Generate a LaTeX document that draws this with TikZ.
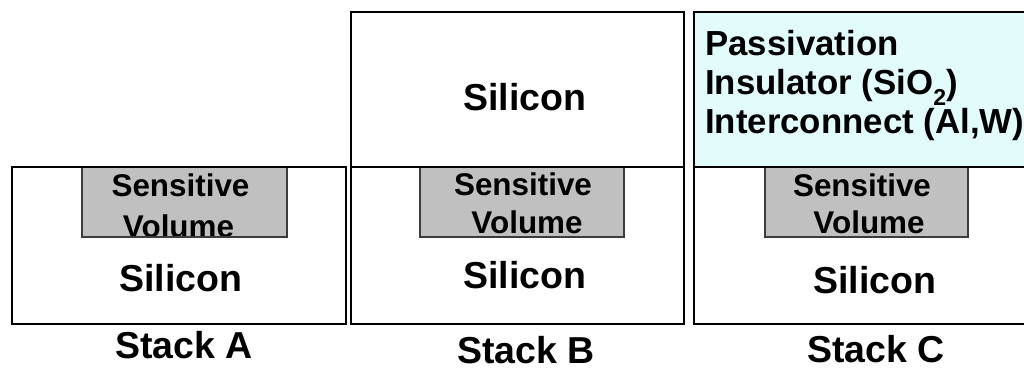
\documentclass[tikz,border=0pt]{standalone}
\usepackage{fontspec}
\setmainfont{Liberation Sans}
\begin{document}
\begin{tikzpicture}[x=1pt,y=-1pt,
  layer/.style={draw=black,line width=1.4pt},
  sensfill/.style={fill={rgb,255:red,192;green,192;blue,192}},
  sensedge/.style={draw={rgb,255:red,60;green,60;blue,60},line width=1.2pt},
  big/.style={inner sep=0pt,anchor=base,font=\fontsize{37.5}{42}\selectfont\bfseries},
  small/.style={inner sep=0pt,anchor=base,font=\fontsize{31.4}{35}\selectfont\bfseries},
  layertext/.style={inner sep=0pt,anchor=base west,font=\fontsize{34.8}{40}\selectfont\bfseries}]
\definecolor{oxide}{RGB}{226,252,252}
\useasboundingbox (0,0) rectangle (1024,368);
\clip (0,0) rectangle (1024,368);

% Stack A: silicon substrate with its sensitive volume
\fill[sensfill] (82,167) rectangle (287,237);
\node[small] (sensA) at (180.5,196) {Sensitive};
\node[small] (volA) at (178.5,237) {Volume};
\draw[sensedge] (82,167) rectangle (287,237);
\draw[layer] (12,167) rectangle (346,324);
\node[big] (siA) at (181,291) {Silicon};
\node[big] (stackA) at (184,358) {Stack A};

% Stack B: substrate covered by a second silicon layer
\draw[layer] (351,12) rectangle (684,167);
\node[big] (siBtop) at (525,110) {Silicon};
\fill[sensfill] (420,167) rectangle (624,237);
\node[small] (sensB) at (523,195) {Sensitive};
\node[small] (volB) at (527,233) {Volume};
\draw[sensedge] (420,167) rectangle (624,237);
\draw[layer] (351,167) rectangle (684,324);
\node[big] (siB) at (525,288) {Silicon};
\node[big] (stackB) at (526,363) {Stack B};

% Stack C: substrate covered by the back-end-of-line layers
\fill[oxide] (694,12) rectangle (1040,167);
\draw[layer] (1040,12) -- (694,12) -- (694,167) -- (1040,167);
\node[layertext] (pass) at (705,55) {Passivation};
\node[layertext] (ins) at (705,94) {Insulator (SiO\raisebox{-11pt}{\fontsize{23}{26}\selectfont 2})};
\node[layertext] (inter) at (705,133) {Interconnect (Al,W)};
\fill[sensfill] (765,167) rectangle (968,237);
\node[small] (sensC) at (862,196) {Sensitive};
\node[small] (volC) at (869,233) {Volume};
\draw[sensedge] (765,167) rectangle (968,237);
\draw[layer] (1040,167) -- (694,167) -- (694,324) -- (1040,324);
\node[big] (siC) at (875,293) {Silicon};
\node[big] (stackC) at (876,362) {Stack C};
\end{tikzpicture}
\end{document}
